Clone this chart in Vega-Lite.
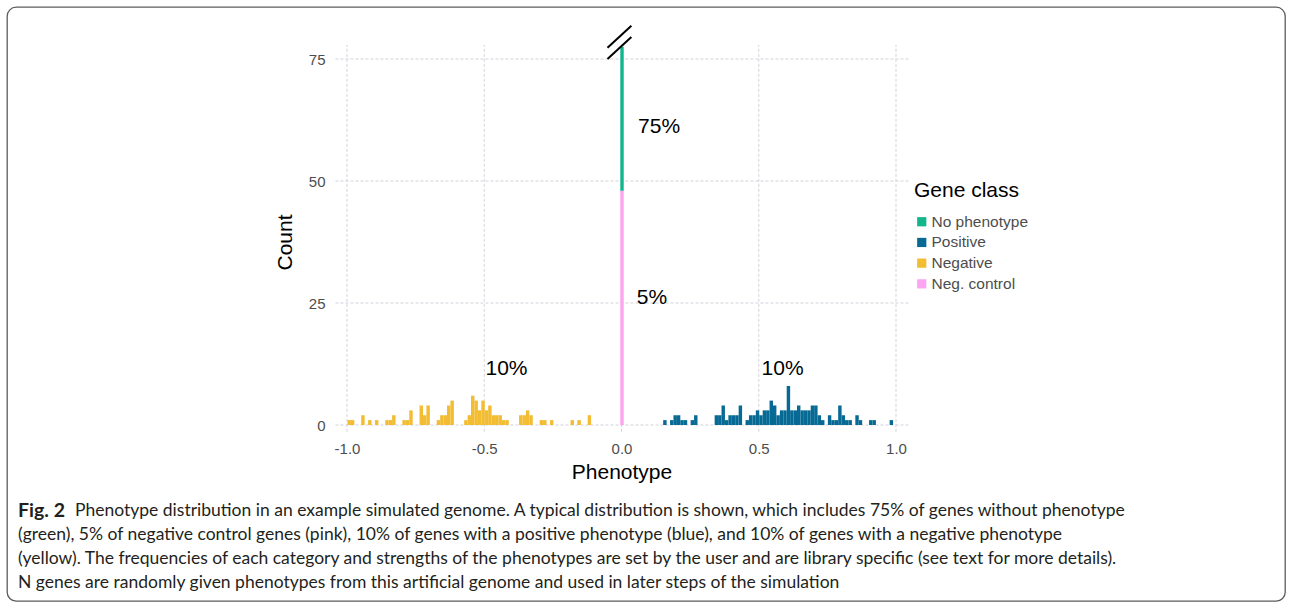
{
  "$schema": "https://vega.github.io/schema/vega-lite/v6.json",
  "width": 1278,
  "height": 594,
  "autosize": {"type": "none"},
  "padding": {"left": 7, "top": 7, "right": 7, "bottom": 8},
  "background": "white",
  "config": {
    "view": {"stroke": "#5c5c5c", "strokeWidth": 1.3, "cornerRadius": 9},
    "font": "Liberation Sans"
  },
  "datasets": {
    "xticks": [
      {"phenotype": -1.0}, {"phenotype": -0.5}, {"phenotype": 0.0}, {"phenotype": 0.5}, {"phenotype": 1.0}
    ],
    "yticks": [
      {"count": 0}, {"count": 25}, {"count": 50}, {"count": 75}
    ],
    "genes": [
      {"bin_start": -1.0, "bin_end": -0.9875, "count": 1, "class": "Negative"},
      {"bin_start": -0.9875, "bin_end": -0.975, "count": 1, "class": "Negative"},
      {"bin_start": -0.95, "bin_end": -0.9375, "count": 2, "class": "Negative"},
      {"bin_start": -0.925, "bin_end": -0.9125, "count": 1, "class": "Negative"},
      {"bin_start": -0.9, "bin_end": -0.8875, "count": 1, "class": "Negative"},
      {"bin_start": -0.8625, "bin_end": -0.85, "count": 1, "class": "Negative"},
      {"bin_start": -0.85, "bin_end": -0.8375, "count": 1, "class": "Negative"},
      {"bin_start": -0.8375, "bin_end": -0.825, "count": 2, "class": "Negative"},
      {"bin_start": -0.8, "bin_end": -0.7875, "count": 1, "class": "Negative"},
      {"bin_start": -0.7875, "bin_end": -0.775, "count": 1, "class": "Negative"},
      {"bin_start": -0.775, "bin_end": -0.7625, "count": 3, "class": "Negative"},
      {"bin_start": -0.7375, "bin_end": -0.725, "count": 4, "class": "Negative"},
      {"bin_start": -0.725, "bin_end": -0.7125, "count": 2, "class": "Negative"},
      {"bin_start": -0.7125, "bin_end": -0.7, "count": 4, "class": "Negative"},
      {"bin_start": -0.675, "bin_end": -0.6625, "count": 1, "class": "Negative"},
      {"bin_start": -0.6625, "bin_end": -0.65, "count": 2, "class": "Negative"},
      {"bin_start": -0.65, "bin_end": -0.6375, "count": 2, "class": "Negative"},
      {"bin_start": -0.6375, "bin_end": -0.625, "count": 4, "class": "Negative"},
      {"bin_start": -0.625, "bin_end": -0.6125, "count": 5, "class": "Negative"},
      {"bin_start": -0.575, "bin_end": -0.5625, "count": 1, "class": "Negative"},
      {"bin_start": -0.5625, "bin_end": -0.55, "count": 2, "class": "Negative"},
      {"bin_start": -0.55, "bin_end": -0.5375, "count": 6, "class": "Negative"},
      {"bin_start": -0.5375, "bin_end": -0.525, "count": 5, "class": "Negative"},
      {"bin_start": -0.525, "bin_end": -0.5125, "count": 3, "class": "Negative"},
      {"bin_start": -0.5125, "bin_end": -0.5, "count": 5, "class": "Negative"},
      {"bin_start": -0.5, "bin_end": -0.4875, "count": 3, "class": "Negative"},
      {"bin_start": -0.4875, "bin_end": -0.475, "count": 4, "class": "Negative"},
      {"bin_start": -0.475, "bin_end": -0.4625, "count": 2, "class": "Negative"},
      {"bin_start": -0.4625, "bin_end": -0.45, "count": 2, "class": "Negative"},
      {"bin_start": -0.45, "bin_end": -0.4375, "count": 2, "class": "Negative"},
      {"bin_start": -0.4375, "bin_end": -0.425, "count": 1, "class": "Negative"},
      {"bin_start": -0.425, "bin_end": -0.4125, "count": 1, "class": "Negative"},
      {"bin_start": -0.375, "bin_end": -0.3625, "count": 2, "class": "Negative"},
      {"bin_start": -0.3625, "bin_end": -0.35, "count": 2, "class": "Negative"},
      {"bin_start": -0.35, "bin_end": -0.3375, "count": 3, "class": "Negative"},
      {"bin_start": -0.3375, "bin_end": -0.325, "count": 2, "class": "Negative"},
      {"bin_start": -0.3, "bin_end": -0.2875, "count": 1, "class": "Negative"},
      {"bin_start": -0.2875, "bin_end": -0.275, "count": 1, "class": "Negative"},
      {"bin_start": -0.2625, "bin_end": -0.25, "count": 1, "class": "Negative"},
      {"bin_start": -0.1875, "bin_end": -0.175, "count": 1, "class": "Negative"},
      {"bin_start": -0.1625, "bin_end": -0.15, "count": 1, "class": "Negative"},
      {"bin_start": -0.125, "bin_end": -0.1125, "count": 2, "class": "Negative"},
      {"bin_start": -0.00625, "bin_end": 0.00625, "count": 48, "class": "Neg. control"},
      {"bin_start": -0.00625, "bin_end": 0.00625, "count": 720, "class": "No phenotype"},
      {"bin_start": 0.15, "bin_end": 0.1625, "count": 1, "class": "Positive"},
      {"bin_start": 0.175, "bin_end": 0.1875, "count": 1, "class": "Positive"},
      {"bin_start": 0.1875, "bin_end": 0.2, "count": 2, "class": "Positive"},
      {"bin_start": 0.2, "bin_end": 0.2125, "count": 2, "class": "Positive"},
      {"bin_start": 0.2125, "bin_end": 0.225, "count": 1, "class": "Positive"},
      {"bin_start": 0.225, "bin_end": 0.2375, "count": 1, "class": "Positive"},
      {"bin_start": 0.25, "bin_end": 0.2625, "count": 1, "class": "Positive"},
      {"bin_start": 0.2625, "bin_end": 0.275, "count": 2, "class": "Positive"},
      {"bin_start": 0.3375, "bin_end": 0.35, "count": 2, "class": "Positive"},
      {"bin_start": 0.35, "bin_end": 0.3625, "count": 2, "class": "Positive"},
      {"bin_start": 0.3625, "bin_end": 0.375, "count": 4, "class": "Positive"},
      {"bin_start": 0.375, "bin_end": 0.3875, "count": 1, "class": "Positive"},
      {"bin_start": 0.3875, "bin_end": 0.4, "count": 2, "class": "Positive"},
      {"bin_start": 0.4, "bin_end": 0.4125, "count": 2, "class": "Positive"},
      {"bin_start": 0.4125, "bin_end": 0.425, "count": 2, "class": "Positive"},
      {"bin_start": 0.425, "bin_end": 0.4375, "count": 4, "class": "Positive"},
      {"bin_start": 0.45, "bin_end": 0.4625, "count": 1, "class": "Positive"},
      {"bin_start": 0.4625, "bin_end": 0.475, "count": 2, "class": "Positive"},
      {"bin_start": 0.475, "bin_end": 0.4875, "count": 2, "class": "Positive"},
      {"bin_start": 0.4875, "bin_end": 0.5, "count": 3, "class": "Positive"},
      {"bin_start": 0.5, "bin_end": 0.5125, "count": 2, "class": "Positive"},
      {"bin_start": 0.5125, "bin_end": 0.525, "count": 3, "class": "Positive"},
      {"bin_start": 0.525, "bin_end": 0.5375, "count": 3, "class": "Positive"},
      {"bin_start": 0.5375, "bin_end": 0.55, "count": 5, "class": "Positive"},
      {"bin_start": 0.55, "bin_end": 0.5625, "count": 4, "class": "Positive"},
      {"bin_start": 0.5625, "bin_end": 0.575, "count": 2, "class": "Positive"},
      {"bin_start": 0.575, "bin_end": 0.5875, "count": 3, "class": "Positive"},
      {"bin_start": 0.5875, "bin_end": 0.6, "count": 3, "class": "Positive"},
      {"bin_start": 0.6, "bin_end": 0.6125, "count": 8, "class": "Positive"},
      {"bin_start": 0.6125, "bin_end": 0.625, "count": 3, "class": "Positive"},
      {"bin_start": 0.625, "bin_end": 0.6375, "count": 3, "class": "Positive"},
      {"bin_start": 0.6375, "bin_end": 0.65, "count": 4, "class": "Positive"},
      {"bin_start": 0.65, "bin_end": 0.6625, "count": 3, "class": "Positive"},
      {"bin_start": 0.6625, "bin_end": 0.675, "count": 3, "class": "Positive"},
      {"bin_start": 0.675, "bin_end": 0.6875, "count": 3, "class": "Positive"},
      {"bin_start": 0.6875, "bin_end": 0.7, "count": 4, "class": "Positive"},
      {"bin_start": 0.7, "bin_end": 0.7125, "count": 4, "class": "Positive"},
      {"bin_start": 0.7125, "bin_end": 0.725, "count": 2, "class": "Positive"},
      {"bin_start": 0.725, "bin_end": 0.7375, "count": 1, "class": "Positive"},
      {"bin_start": 0.75, "bin_end": 0.7625, "count": 2, "class": "Positive"},
      {"bin_start": 0.7625, "bin_end": 0.775, "count": 1, "class": "Positive"},
      {"bin_start": 0.775, "bin_end": 0.7875, "count": 1, "class": "Positive"},
      {"bin_start": 0.7875, "bin_end": 0.8, "count": 4, "class": "Positive"},
      {"bin_start": 0.8, "bin_end": 0.8125, "count": 2, "class": "Positive"},
      {"bin_start": 0.8125, "bin_end": 0.825, "count": 1, "class": "Positive"},
      {"bin_start": 0.825, "bin_end": 0.8375, "count": 1, "class": "Positive"},
      {"bin_start": 0.85, "bin_end": 0.8625, "count": 2, "class": "Positive"},
      {"bin_start": 0.8625, "bin_end": 0.875, "count": 1, "class": "Positive"},
      {"bin_start": 0.9, "bin_end": 0.9125, "count": 1, "class": "Positive"},
      {"bin_start": 0.9125, "bin_end": 0.925, "count": 1, "class": "Positive"},
      {"bin_start": 0.975, "bin_end": 0.9875, "count": 1, "class": "Positive"}
    ],
    "shares": [
      {"phenotype": 0.137, "count": 61, "label": "75%"},
      {"phenotype": 0.111, "count": 26, "label": "5%"},
      {"phenotype": -0.419, "count": 11.5, "label": "10%"},
      {"phenotype": 0.587, "count": 11.5, "label": "10%"}
    ],
    "axis_break": [
      {"x_from": -0.051, "y_from": 75.0, "x_to": 0.036, "y_to": 79.5},
      {"x_from": -0.051, "y_from": 77.3, "x_to": 0.036, "y_to": 81.8}
    ],
    "caption": [
      {"line": 1, "part": "label", "text": "Fig. 2"},
      {"line": 1, "part": "lead", "text": "Phenotype distribution in an example simulated genome. A typical distribution is shown, which includes 75% of genes without phenotype"},
      {"line": 2, "part": "body", "text": "(green), 5% of negative control genes (pink), 10% of genes with a positive phenotype (blue), and 10% of genes with a negative phenotype"},
      {"line": 3, "part": "body", "text": "(yellow). The frequencies of each category and strengths of the phenotypes are set by the user and are library specific (see text for more details)."},
      {"line": 4, "part": "body", "text": "N genes are randomly given phenotypes from this artificial genome and used in later steps of the simulation"}
    ]
  },
  "layer": [
    {
      "layer": [
        {
          "data": {"name": "yticks"},
          "mark": {"type": "rule", "color": "#d3d3db", "strokeDash": [3, 2], "strokeWidth": 1},
          "encoding": {
            "y": {
              "field": "count", "type": "quantitative",
              "scale": {"domain": [0, 75], "range": [418, 52], "nice": false, "zero": false},
              "axis": {
                "title": "Count", "values": [0, 25, 50, 75], "grid": false, "domain": false, "ticks": false, "tickSize": 0,
                "offset": -322, "labelPadding": 4, "labelFontSize": 15, "labelColor": "#4d4d4d", "labelFont": "Liberation Sans",
                "titleFontSize": 21, "titleFontWeight": "normal", "titleColor": "black", "titleFont": "Liberation Sans", "titlePadding": 13
              }
            },
            "x": {"datum": -1.042, "type": "quantitative", "title": "Phenotype"},
            "x2": {"datum": 1.046}
          }
        },
        {
          "data": {"name": "xticks"},
          "mark": {"type": "rule", "color": "#d3d3db", "strokeDash": [3, 2], "strokeWidth": 1},
          "encoding": {
            "x": {
              "field": "phenotype", "type": "quantitative",
              "scale": {"domain": [-1, 1], "range": [340, 889], "nice": false, "zero": false},
              "axis": {
                "title": "Phenotype", "values": [-1, -0.5, 0, 0.5, 1], "format": ".1f",
                "labelExpr": "replace(datum.label, '\u2212', '-')", "labelFlush": false,
                "grid": false, "domain": false, "ticks": false, "tickSize": 0,
                "offset": -163, "labelPadding": 3, "labelFontSize": 15, "labelColor": "#4d4d4d", "labelFont": "Liberation Sans",
                "titleFontSize": 21, "titleFontWeight": "normal", "titleColor": "black", "titleFont": "Liberation Sans", "titlePadding": 5
              }
            },
            "y": {"datum": -1.4, "type": "quantitative", "title": "Count"},
            "y2": {"datum": 77.9}
          }
        }
      ]
    },
    {
      "data": {"name": "genes"},
      "mark": {"type": "bar", "binSpacing": 0},
      "encoding": {
        "x": {
          "field": "bin_start", "type": "quantitative", "bin": "binned",
          "scale": {"domain": [-1, 1], "range": [340, 889], "nice": false, "zero": false},
          "axis": null
        },
        "x2": {"field": "bin_end"},
        "y": {
          "field": "count", "type": "quantitative", "stack": "zero",
          "scale": {"domain": [0, 77.5], "range": [418, 39.8], "nice": false, "zero": false, "clamp": true},
          "axis": null
        },
        "color": {
          "field": "class", "type": "nominal",
          "scale": {
            "domain": ["No phenotype", "Positive", "Negative", "Neg. control"],
            "range": ["#13b58c", "#076a95", "#f2bc33", "#fca5f0"]
          },
          "legend": {
            "title": "Gene class", "orient": "none", "legendX": 907, "legendY": 173,
            "symbolType": "square", "symbolSize": 85, "symbolStrokeWidth": 0,
            "labelFontSize": 15.5, "labelColor": "#4d4d4d", "labelFont": "Liberation Sans", "labelOffset": 2,
            "titleFontSize": 21, "titleFontWeight": "normal", "titleColor": "black", "titleFont": "Liberation Sans",
            "titlePadding": 13, "rowPadding": 3.7
          }
        },
        "order": {"field": "class", "sort": "ascending"}
      }
    },
    {
      "layer": [
        {
          "data": {"name": "shares"},
          "mark": {"type": "text", "fontSize": 21, "font": "Liberation Sans", "color": "black", "align": "center", "baseline": "middle"},
          "encoding": {
            "x": {"field": "phenotype", "type": "quantitative", "scale": {"domain": [-1, 1], "range": [340, 889], "nice": false, "zero": false}, "axis": null},
            "y": {"field": "count", "type": "quantitative", "scale": {"domain": [0, 75], "range": [418, 52], "nice": false, "zero": false}, "axis": null},
            "text": {"field": "label"}
          }
        },
        {
          "data": {"name": "axis_break"},
          "mark": {"type": "rule", "color": "black", "strokeWidth": 2},
          "encoding": {
            "x": {"field": "x_from", "type": "quantitative", "axis": null},
            "y": {"field": "y_from", "type": "quantitative", "axis": null},
            "x2": {"field": "x_to"},
            "y2": {"field": "y_to"}
          }
        }
      ]
    },
    {
      "data": {"name": "caption"},
      "encoding": {
        "x": {"datum": 0, "type": "quantitative", "scale": {"domain": [0, 1], "range": [11, 1271]}, "axis": null},
        "y": {"field": "line", "type": "quantitative", "scale": {"domain": [1, 4], "range": [504, 576], "nice": false, "zero": false}, "axis": null},
        "text": {"field": "text"}
      },
      "layer": [
        {
          "transform": [{"filter": "datum.part == 'label'"}],
          "mark": {"type": "text", "align": "left", "baseline": "middle", "font": "Lato", "fontSize": 19.5, "fontWeight": "bold", "color": "#231f20"}
        },
        {
          "transform": [{"filter": "datum.part == 'lead'"}],
          "mark": {"type": "text", "align": "left", "baseline": "middle", "font": "Lato", "fontSize": 17.5, "color": "#231f20", "dx": 57}
        },
        {
          "transform": [{"filter": "datum.part == 'body'"}],
          "mark": {"type": "text", "align": "left", "baseline": "middle", "font": "Lato", "fontSize": 17.5, "color": "#231f20"}
        }
      ]
    }
  ],
  "resolve": {"scale": {"x": "independent", "y": "independent", "color": "independent"}}
}
